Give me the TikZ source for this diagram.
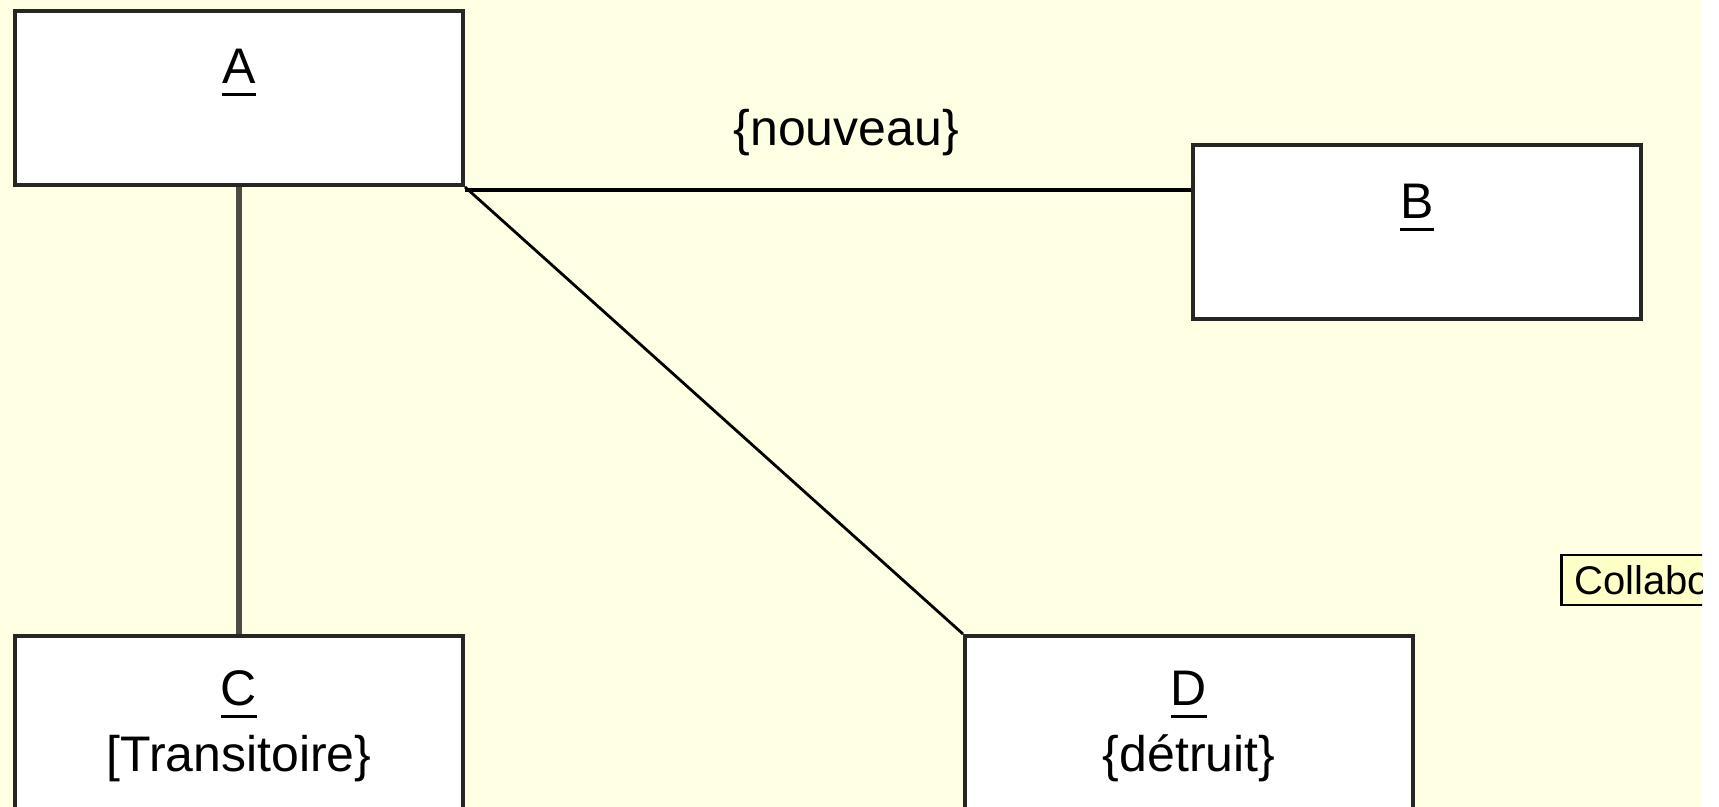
\documentclass[tikz,border=0pt]{standalone}
\usepackage{fontspec}
\setmainfont{Liberation Sans}
\usetikzlibrary{positioning}

\definecolor{paper}{RGB}{255,255,228}
\definecolor{tipfill}{RGB}{255,255,200}
\definecolor{boxline}{RGB}{38,38,34}
\definecolor{stemgray}{RGB}{76,76,68}

\newcommand{\objul}[1]{\setbox0\hbox{#1}\rlap{\raisebox{-6pt}{\rule{\wd0}{1.5pt}}}\box0}

\begin{document}
\begin{tikzpicture}[
    x=0.5pt, y=0.5pt,
    object/.style={rectangle, draw=boxline, line width=2pt, fill=white, minimum width=224pt, minimum height=87pt, inner sep=0pt, anchor=north west},
    objname/.style={anchor=base, inner sep=0pt, font=\fontsize{25}{33}\selectfont},
    link/.style={line width=1.6pt, black},
    tooltip/.style={rectangle, draw=black, line width=1.3pt, fill=tipfill, minimum height=25pt, text width=60pt, align=left, inner xsep=6.5pt, inner ysep=0pt, anchor=west, font=\fontsize{20}{24}\selectfont}
]

\useasboundingbox (0,0) rectangle (1719,807);
\fill[white] (0,0) rectangle (1719,807);
\fill[paper] (0,0) rectangle (1702,807);

% objects
\node[object] (A) at (13,798) {};
\node[object, right=363pt of A.north east, anchor=north west, yshift=-67pt] (B) {};
\node[object, below=223.5pt of A.south west, anchor=north west] (C) {};
\node[object, right=249pt of C.north east, anchor=north west] (D) {};

\node[objname, below=37.5pt of A.north, anchor=base] (Aname) {\objul{A}};
\node[objname, below=38pt of B.north, anchor=base] (Bname) {\objul{B}};
\node[objname, below=36pt of C.north, anchor=base] (Cname) {\objul{C}};
\node[objname, below=69pt of C.north, anchor=base] (Cstate) {[Transitoire\}};
\node[objname, below=36pt of D.north, anchor=base] (Dname) {\objul{D}};
\node[objname, below=69pt of D.north, anchor=base] (Dstate) {\{détruit\}};

% links
\coordinate (ab) at ([yshift=-1.5pt]A.south east);
\draw[link] (ab) -- (ab -| B.west) node[objname, pos=0.525, yshift=22pt] (new) {\{nouveau\}};
\draw[link, stemgray, line width=2.6pt] (A.south) -- (C.north);
\draw[link, line width=1.4pt] (A.south east) -- (D.north west);

\begin{scope}
\clip (0,0) rectangle (1702,807);
\node[tooltip] (tip) at (1560,227) {Collabo};
\end{scope}

\end{tikzpicture}
\end{document}
